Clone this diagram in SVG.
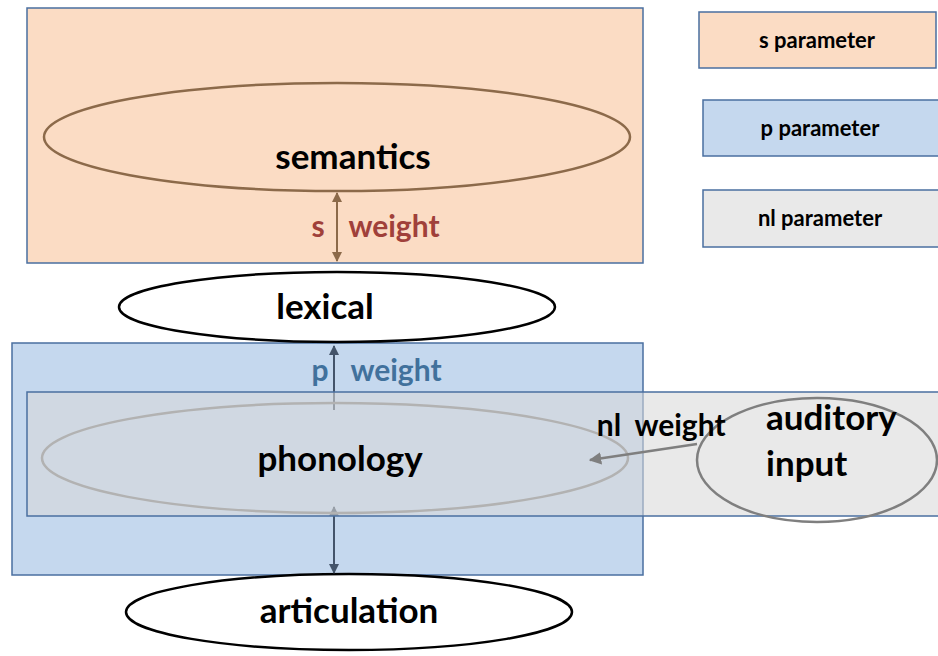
<svg xmlns="http://www.w3.org/2000/svg" width="938" height="656" viewBox="0 0 938 656">
<defs>
<marker id="ab" viewBox="0 0 10 10" refX="9" refY="5" markerWidth="5" markerHeight="5" orient="auto-start-reverse"><path d="M0,0 L10,5 L0,10 z" fill="#8c6a4a"/></marker>
<marker id="ap" viewBox="0 0 10 10" refX="9" refY="5" markerWidth="5" markerHeight="5" orient="auto-start-reverse"><path d="M0,0 L10,5 L0,10 z" fill="#44546a"/></marker>
<marker id="ag" viewBox="0 0 10 10" refX="9" refY="5" markerWidth="5" markerHeight="5" orient="auto-start-reverse"><path d="M0,0 L10,5 L0,10 z" fill="#7f7f7f"/></marker>
<style>
text{font-family:Lato,"Liberation Sans",sans-serif;font-weight:bold;}
.big{font-size:35px;fill:#000;text-anchor:middle;}
.leg{font-size:22px;fill:#000;text-anchor:middle;}
.box{stroke:#4a6fa0;stroke-width:1.5;}
</style>
</defs>
<g id="s-region"><rect class="box" x="27" y="8" width="616" height="255" fill="#fbdcc4"/></g>
<g id="p-region"><rect class="box" x="12" y="343" width="631" height="232" fill="#c5d8ee"/></g>
<g id="semantics"><ellipse cx="337" cy="137" rx="293" ry="54" fill="none" stroke="#8c6a4a" stroke-width="2.5"/><text class="big" x="353" y="169">semantics</text></g>
<g id="lexical"><ellipse cx="337" cy="307" rx="218" ry="35" fill="#fff" stroke="#000" stroke-width="2.5"/><text class="big" x="325" y="319">lexical</text></g>
<g id="articulation"><ellipse cx="349" cy="612" rx="223" ry="38" fill="#fff" stroke="#000" stroke-width="2.5"/><text class="big" x="349" y="623">articulation</text></g>
<g id="connectors">
<line x1="337" y1="193" x2="337" y2="261" stroke="#8c6a4a" stroke-width="2" marker-start="url(#ab)" marker-end="url(#ab)"/>
<line x1="334" y1="410" x2="334" y2="346" stroke="#44546a" stroke-width="2" marker-end="url(#ap)"/>
<line x1="334" y1="507" x2="334" y2="573" stroke="#44546a" stroke-width="2" marker-start="url(#ap)" marker-end="url(#ap)"/>
</g>
<g id="phonology"><ellipse cx="335" cy="458" rx="293" ry="55" fill="none" stroke="#7f7f7f" stroke-width="2.5"/></g>
<g id="nl-region"><rect class="box" x="27" y="392" width="920" height="124" fill="#d8d8d8" fill-opacity="0.57"/></g>
<g id="phonology-label"><text class="big" x="340" y="471">phonology</text></g>
<g id="auditory-input"><ellipse cx="817" cy="460" rx="120" ry="62" fill="none" stroke="#7f7f7f" stroke-width="2.5"/><text x="766" y="430" font-size="35" fill="#000">auditory</text><text x="766" y="476" font-size="35" fill="#000">input</text></g>
<g id="nl-connector"><line x1="697" y1="444" x2="590" y2="460" stroke="#7f7f7f" stroke-width="2.5" marker-end="url(#ag)"/></g>
<g id="labels">
<text x="318" y="237" font-size="30" fill="#a0403a" text-anchor="middle">s</text>
<text x="394" y="237" font-size="30" fill="#a0403a" text-anchor="middle">weight</text>
<text x="320" y="381" font-size="30" fill="#41719c" text-anchor="middle">p</text>
<text x="396" y="381" font-size="30" fill="#41719c" text-anchor="middle">weight</text>
<text x="609" y="436" font-size="30" fill="#000" text-anchor="middle">nl</text>
<text x="680" y="436" font-size="30" fill="#000" text-anchor="middle">weight</text>
</g>
<g id="legend-s"><rect class="box" x="699" y="12" width="237" height="56" fill="#fbdcc4"/><text class="leg" x="817" y="48">s parameter</text></g>
<g id="legend-p"><rect class="box" x="703" y="100" width="240" height="56" fill="#c5d8ee"/><text class="leg" x="820" y="136">p parameter</text></g>
<g id="legend-nl"><rect class="box" x="703" y="190" width="240" height="57" fill="#e9e9e9"/><text class="leg" x="820" y="226">nl parameter</text></g>
</svg>
